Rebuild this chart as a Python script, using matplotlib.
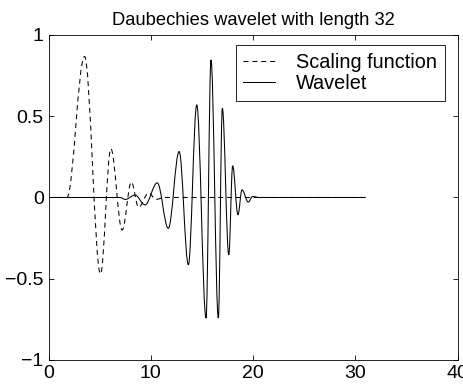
import numpy as np
import matplotlib
matplotlib.use("Agg")
import matplotlib.pyplot as plt
from matplotlib.path import Path
from matplotlib.patches import PathPatch
from matplotlib.lines import Line2D

plt.rcParams['font.family'] = ['Liberation Sans', 'DejaVu Sans']
plt.rcParams['lines.scale_dashes'] = False

# turning points (extrema) of the two curves, flat tails included
phi_x = [0, 1.8, 3.52, 5.08, 6.09, 7.2, 8.1, 8.8, 9.8, 10.5, 11.3, 31]
phi_y = [0, 0, 0.868, -0.47, 0.30, -0.20, 0.095, -0.06, 0.028, -0.012, 0, 0]

psi_x = [0, 7.0, 7.5, 8.46, 9.43, 10.63, 11.71, 12.77, 13.67, 14.49, 15.40,
         15.88, 16.60, 16.99, 17.62, 18.0, 18.52, 18.91, 19.53, 19.95, 20.6, 31]
psi_y = [0, 0, -0.012, 0.015, -0.045, 0.09, -0.19, 0.283, -0.414, 0.570,
         -0.742, 0.847, -0.742, 0.550, -0.353, 0.195, -0.106, 0.047, -0.028,
         0.006, 0, 0]

xticks = [0, 10, 20, 30, 40]
yticks = [-1, -0.5, 0, 0.5, 1]


def smooth_path(xs, ys, a=0.364):
    # cubic bezier between consecutive extrema, flat tangent at each one
    verts = [(xs[0], ys[0])]
    codes = [Path.MOVETO]
    for x0, y0, x1, y1 in zip(xs[:-1], ys[:-1], xs[1:], ys[1:]):
        d = (x1 - x0) * a
        verts += [(x0 + d, y0), (x1 - d, y1), (x1, y1)]
        codes += [Path.CURVE4] * 3
    return Path(verts, codes)


dash = (0, (3.6, 2.8))
lw = 0.75

fig = plt.figure(figsize=(4.63, 3.84), dpi=100)
ax = fig.add_axes([0.1048, 0.0625, 0.8838, 0.8464])

ax.add_patch(PathPatch(smooth_path(phi_x, phi_y), fill=False, ec='k',
                       lw=lw, ls=dash, capstyle='butt'))
ax.add_patch(PathPatch(smooth_path(psi_x, psi_y), fill=False, ec='k', lw=lw))

ax.set_xlim(0, 40)
ax.set_ylim(-1, 1)
ax.set_xticks(xticks)
ax.set_yticks(yticks)
ax.set_xticklabels([str(t) for t in xticks])
ax.set_yticklabels(['\u22121', '\u22120.5', '0', '0.5', '1'])
ax.tick_params(direction='in', top=True, right=True, length=3.6, width=0.6,
               labelsize=14)
ax.tick_params(axis='x', pad=3.5)
ax.tick_params(axis='y', pad=3.5)
for s in ax.spines.values():
    s.set_linewidth(0.6)

ax.set_title('Daubechies wavelet with length 32', fontsize=13.2, pad=7)

handles = [Line2D([], [], color='k', lw=lw, ls=dash),
           Line2D([], [], color='k', lw=lw)]
leg = ax.legend(handles, ['Scaling function', 'Wavelet'], loc='upper right',
                bbox_to_anchor=(0.969, 0.969), borderaxespad=0, fontsize=14.3,
                handlelength=1.6, handletextpad=1.05, labelspacing=0.12,
                borderpad=0.4, fancybox=False, framealpha=1)
leg.get_frame().set_edgecolor('k')
leg.get_frame().set_linewidth(0.6)

fig.savefig('out.png', dpi=100)
